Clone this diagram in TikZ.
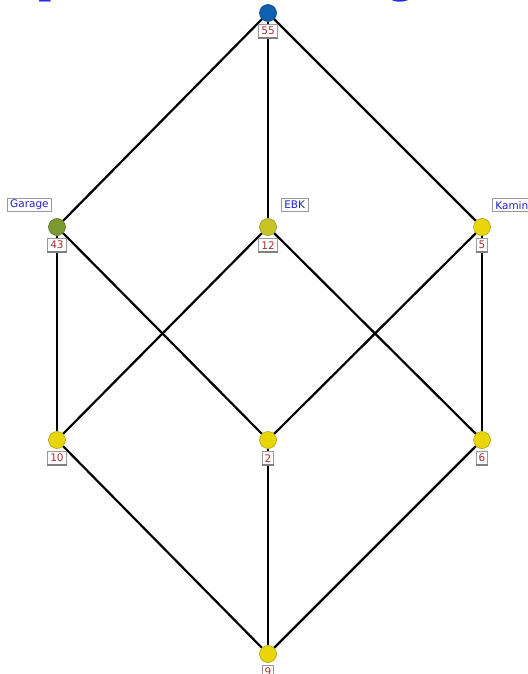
\documentclass[tikz,border=0pt]{standalone}
\usepackage{fontspec}
\setmainfont{Liberation Serif}
\newfontfamily\boxfont{DejaVu Sans}
\usetikzlibrary{positioning,backgrounds}
\definecolor{topblue}{RGB}{16,96,176}
\definecolor{moss}{RGB}{122,154,48}
\definecolor{olive}{RGB}{200,196,40}
\definecolor{sun}{RGB}{232,214,10}
\definecolor{headblue}{RGB}{40,40,225}
\definecolor{numred}{RGB}{165,50,50}
\definecolor{attrblue}{RGB}{35,35,205}
\tikzset{
  concept/.style={circle,draw=#1!75!black,fill=#1,minimum size=17pt,inner sep=0pt,line width=0.6pt},
  concept/.default=sun,
  edge/.style={draw=black,line width=2.2pt},
  count/.style={draw=gray!80,fill=white,text=numred,font=\boxfont\fontsize{10.5}{10.5}\selectfont,
    inner xsep=2.5pt,inner ysep=1.2pt,minimum height=13pt,line width=0.7pt},
  attr/.style={draw=gray!80,fill=white,text=attrblue,font=\boxfont\fontsize{10.5}{10.5}\selectfont,
    inner xsep=3pt,inner ysep=1.2pt,minimum height=13pt,line width=0.7pt},
  heading/.style={text=headblue,font=\fontsize{54}{54}\selectfont,inner sep=0pt},
}

\begin{document}
\begin{tikzpicture}[x=1pt,y=-1pt]
  \useasboundingbox (0,0) rectangle (527,674);
  % title, cut off by the page
  \node[heading,anchor=base] (hp) at (52,-9) {p};
  \node[heading,anchor=base] (hg) at (401,-9) {g};
  \foreach \x/\y/\c/\k [count=\i] in {
    268/13/topblue/55, 57/227/moss/43, 268/227/olive/12, 482/227/sun/5,
    57/440/sun/10, 268/440/sun/2, 482/440/sun/6, 268/654/sun/9}
  {
    \node[concept=\c] (n\i) at (\x,\y) {};
    \node[count,below=2.5pt of n\i] (k\i) {\k};
    \draw[gray,line width=1.6pt] (k\i.south west) -- (k\i.south east);
  }
  \begin{scope}[on background layer]
    \foreach \a/\b in {1/2,1/3,1/4,2/5,2/6,3/5,3/7,4/6,4/7,5/8,6/8,7/8}
      \draw[edge] (n\a) -- (n\b);
  \end{scope}
  \node[attr,anchor=south east] (aG) at (52,212) {Garage};
  \node[attr,anchor=south west] (aE) at (281,212) {EBK};
  \node[attr,anchor=south west] (aK) at (492,212) {Kamin};
\end{tikzpicture}
\end{document}
